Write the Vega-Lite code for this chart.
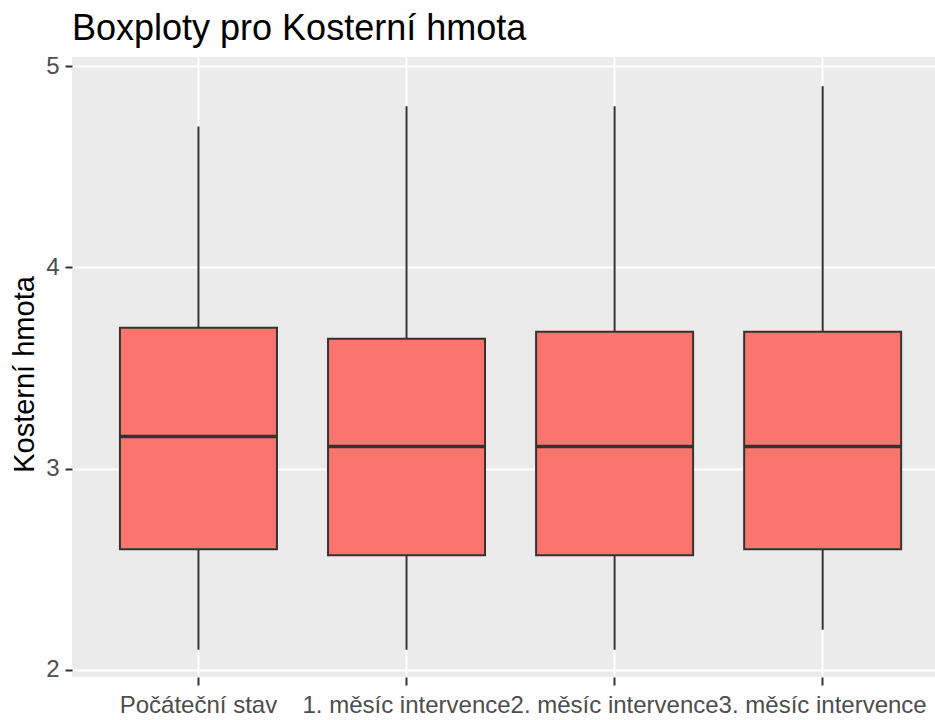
{
  "$schema": "https://vega.github.io/schema/vega-lite/v6.json",
  "width": 863,
  "height": 620,
  "autosize": {"type": "none"},
  "padding": {"left": 72, "top": 57, "right": 0, "bottom": 43},
  "background": "white",
  "title": {
    "text": "Boxploty pro Kosterní hmota",
    "anchor": "start",
    "frame": "group",
    "font": "Liberation Sans",
    "fontSize": 36,
    "fontWeight": "normal",
    "color": "#000000",
    "offset": 6
  },
  "config": {
    "view": {"fill": "#EBEBEB", "stroke": null},
    "axis": {
      "labelFont": "Liberation Sans",
      "titleFont": "Liberation Sans",
      "domain": false
    }
  },
  "data": {
    "values": [
      {"stav": "Počáteční stav", "min": 2.1, "q1": 2.6, "median": 3.16, "q3": 3.7, "max": 4.7},
      {"stav": "1. měsíc intervence", "min": 2.1, "q1": 2.57, "median": 3.11, "q3": 3.645, "max": 4.8},
      {"stav": "2. měsíc intervence", "min": 2.1, "q1": 2.57, "median": 3.11, "q3": 3.68, "max": 4.8},
      {"stav": "3. měsíc intervence", "min": 2.2, "q1": 2.6, "median": 3.11, "q3": 3.68, "max": 4.9}
    ]
  },
  "encoding": {
    "x": {
      "field": "stav",
      "type": "nominal",
      "sort": null,
      "scale": {"paddingInner": 0, "paddingOuter": 0.0738, "align": 0.73},
      "axis": {
        "title": null,
        "labelAngle": 0,
        "labelFontSize": 24,
        "labelColor": "#4D4D4D",
        "labelPadding": 8,
        "labelOverlap": false,
        "labelBound": false,
        "labelFlush": false,
        "labelLimit": 0,
        "tickSize": 8,
        "tickWidth": 2,
        "tickColor": "#333333",
        "bandPosition": 0.5,
        "grid": true,
        "gridColor": "#FFFFFF",
        "gridWidth": 2
      }
    }
  },
  "layer": [
    {
      "mark": {"type": "rule", "color": "#333333", "strokeWidth": 2},
      "encoding": {
        "y": {
          "field": "min",
          "type": "quantitative",
          "scale": {"domain": [1.965, 5.045], "nice": false, "zero": false},
          "axis": {
            "title": "Kosterní hmota",
            "titleFontSize": 29,
            "titleFontWeight": "normal",
            "titleColor": "#000000",
            "titleAngle": 270,
            "titleBaseline": "alphabetic",
            "titleAlign": "center",
            "titleX": -39,
            "titleY": 317,
            "values": [2, 2.5, 3, 3.5, 4, 4.5, 5],
            "format": "d",
            "labelExpr": "datum.value % 1 === 0 ? datum.label : ''",
            "labelFontSize": 24,
            "labelColor": "#4D4D4D",
            "labelPadding": 6,
            "tickSize": 7,
            "tickColor": "#333333",
            "tickWidth": 2,
            "tickOpacity": {"condition": {"test": "datum.value % 1 === 0", "value": 1}, "value": 0},
            "grid": true,
            "gridColor": "#FFFFFF",
            "gridWidth": {"condition": {"test": "datum.value % 1 === 0", "value": 2}, "value": 1}
          }
        },
        "y2": {"field": "max"}
      }
    },
    {
      "mark": {"type": "bar", "fill": "#F8766D", "stroke": "#333333", "strokeWidth": 2, "size": 157},
      "encoding": {
        "y": {"field": "q1", "type": "quantitative"},
        "y2": {"field": "q3"}
      }
    },
    {
      "mark": {"type": "tick", "color": "#333333", "thickness": 3.5, "size": 157, "opacity": 1},
      "encoding": {
        "y": {"field": "median", "type": "quantitative"}
      }
    }
  ]
}
